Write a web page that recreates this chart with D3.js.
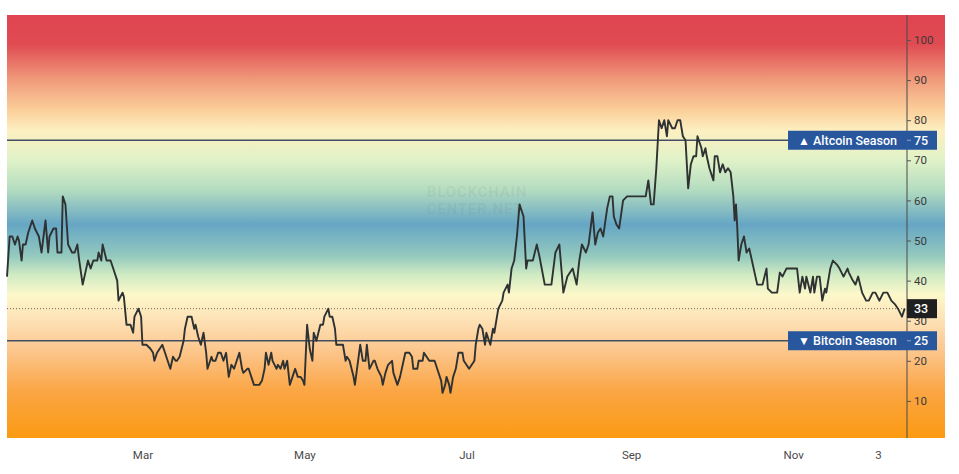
<!DOCTYPE html>
<html>
<head>
<meta charset="utf-8">
<script src="https://cdn.jsdelivr.net/npm/d3@7"></script>
<style>
  body { margin: 0; background: #fff; }
  svg { display: block; font-family: Roboto, "Open Sans", sans-serif; }
</style>
</head>
<body>
<script>
const w = 959;
const h = 474;

// days since the first point (9 Jan 2022)
const dayOffsets = [
  0, 1, 2, 3, 4, 4.5, 5.5, 6, 7, 8,
  9.5, 10.5, 12, 13, 14.5, 15.5, 16, 17.5, 18.5, 19,
  20.5, 21, 22, 23, 24.5, 25.5, 26.5, 27, 28.5, 29.5,
  30.5, 31.5, 32.5, 34, 34.5, 35.5, 36, 37.5, 39, 40,
  41.5, 42, 43.5, 44, 45, 46.5, 47.5, 48, 49.5, 50.5,
  51, 52.5, 54, 55, 55.5, 56.5, 57.5, 58.5, 59.5, 60,
  61.5, 62.5, 63.5, 64, 65, 66.5, 67, 68, 69.5, 70.5,
  71, 72, 73, 74, 75, 75.5, 77, 77.5, 78.5, 79.5,
  80.5, 81.5, 82.5, 83.5, 84.5, 85.5, 86.5, 87.5, 88.5, 89,
  90.5, 91, 92, 93, 94, 95, 96, 97, 97.5, 98.5,
  99.5, 100, 101.5, 102, 103, 104, 104.5, 105.5, 106.5, 107.5,
  108.5, 109.5, 110.5, 111.5, 112, 113, 114, 115, 115.5, 116.5,
  118, 119, 119.5, 121, 121.5, 122.5, 123.5, 124, 125.5, 126.5,
  127.5, 128, 129, 130.5, 131, 132, 133, 134, 135, 135.5,
  136.5, 138, 138.5, 139.5, 141, 141.5, 142.5, 143.5, 145, 145.5,
  147, 148, 149, 150, 151.5, 152.5, 153, 154.5, 155, 156.5,
  157, 158, 159, 160, 161, 162, 163.5, 164, 165, 165.5,
  166.5, 167, 168, 169, 170, 171.5, 172, 173, 174, 175,
  176, 176.5, 177.5, 178, 179, 180, 180.5, 182, 183, 183.5,
  185, 186.5, 187, 188.5, 189, 190, 191, 192, 193, 194.5,
  195.5, 196, 198, 199.5, 200.5, 202.5, 203.5, 205, 206.5, 208,
  209.5, 211, 213, 214.5, 215.5, 216.5, 218, 219, 220.5, 221.5,
  222.5, 223.5, 224.5, 226, 227, 228, 228.5, 229.5, 230.5, 232,
  233.5, 240.5, 241.5, 242.5, 243.5, 244.5, 245.5, 246.5, 247.5, 248.5,
  249, 250.5, 251.5, 252.5, 253.5, 254.5, 255.5, 256.5, 257.5, 258.5,
  259.5, 260, 261.5, 262, 263, 263.5, 264.5, 266, 266.5, 267.5,
  268.5, 269.5, 270.5, 271.5, 272.5, 273.5, 274, 274.5, 275, 275.5,
  276.5, 277.5, 278.5, 279.5, 280.5, 281.5, 282.5, 283.5, 284.5, 286,
  286.5, 288, 290, 291, 292, 293.5, 296, 297.5, 298.5, 299.5,
  300.5, 301, 302.5, 303.5, 304, 305, 306, 307, 308, 308.5,
  310, 311, 312.5, 313.5, 315, 316.5, 317, 318.5, 319.5, 320.5,
  322, 323.5, 324.5, 326, 327, 328.5, 330, 331.5, 333, 334.5,
  335.5, 337, 338
];

const indexValues = [
  41, 51, 51, 49, 51, 50, 45, 49, 49, 52,
  55, 53, 51, 47, 55, 47, 51, 53, 53, 47,
  47, 61, 59, 49, 47, 47, 49, 46, 39, 42,
  45, 43, 45, 45, 47, 45, 49, 45, 45, 43,
  40, 35, 37, 36, 29, 29, 27, 31, 33, 31,
  24, 24, 23, 22, 20, 22, 23, 24, 22, 21,
  18, 21, 20, 20, 21, 25, 28, 31, 31, 28,
  29, 26, 24, 27, 22, 18, 21, 20, 20, 22,
  22, 20, 22, 16, 19, 18, 20, 22, 18, 17,
  18, 18, 16, 14, 14, 14, 15, 18, 22, 19,
  22, 20, 18, 19, 18, 20, 18, 20, 14, 16,
  18, 16, 16, 15, 14, 29, 23, 20, 27, 25,
  29, 29, 31, 33, 31, 31, 28, 24, 24, 24,
  20, 21, 20, 16, 14, 19, 24, 20, 20, 24,
  18, 20, 20, 18, 16, 14, 17, 19, 20, 17,
  14, 16, 19, 22, 22, 21, 18, 18, 20, 20,
  22, 21, 20, 20, 20, 18, 15, 12, 14, 16,
  14, 12, 16, 18, 22, 22, 20, 19, 18, 19,
  20, 24, 28, 29, 28, 24, 27, 24, 28, 27,
  33, 35, 37, 39, 37, 43, 45, 51, 59, 56,
  43, 45, 45, 49, 46, 39, 39, 39, 47, 49,
  37, 41, 43, 39, 45, 49, 47, 49, 57, 49,
  52, 53, 51, 58, 61, 61, 56, 54, 53, 60,
  61, 61, 65, 59, 59, 68, 80, 78, 80, 76,
  80, 78, 78, 80, 80, 76, 75, 63, 69, 71,
  71, 76, 73, 71, 73, 71, 68, 65, 71, 71,
  67, 69, 67, 68, 67, 61, 55, 59, 53, 45,
  49, 51, 47, 48, 45, 42, 39, 39, 39, 43,
  38, 37, 37, 42, 41, 43, 43, 43, 37, 41,
  38, 41, 37, 41, 37, 41, 41, 35, 38, 37,
  43, 45, 44, 43, 41, 43, 42, 40, 39, 41,
  37, 35, 35, 37, 37, 35, 37, 37, 35, 34,
  33, 31, 33
];

const lastValue = 33;
const altcoinLevel = 75;
const bitcoinLevel = 25;

const yTicks = [10, 20, 30, 40, 50, 60, 70, 80, 90, 100];
const xTickDates = ["2022-03-01", "2022-05-01", "2022-07-01", "2022-09-01", "2022-11-01", "2022-12-03"];
const xTickLabels = ["Mar", "May", "Jul", "Sep", "Nov", "3"];

// background colour bands, by index value
const bandValues = [106, 99, 90, 82.5, 77.5, 70, 62.6, 54, 46, 41.4, 36.4, 30, 22.7, 12.7, 0.7];
const bandColors = ["#df4450", "#e04b52", "#f09b7b", "#fbcf99", "#fdefc1", "#e0f2c8", "#b3dcc0",
  "#66a6c4", "#95cabe", "#d0ebc3", "#fdf8ca", "#fde1b5", "#fcc78e", "#fba646", "#fb9a12"];

const paneLeft = 7, paneRight = 945, paneTop = 15, paneBottom = 438, axisX = 907;

const start = Date.UTC(2022, 0, 9);
const DAY = 864e5;
const data = dayOffsets.map((d, i) => ({ date: new Date(start + d * DAY), value: indexValues[i] }));

const x = d3.scaleUtc()
  .domain([new Date(start), new Date(start + 338.9 * DAY)])
  .range([paneLeft, axisX]);

const y = d3.scaleLinear()
  .domain([0, 100])
  .range([441, 40]);

const svg = d3.select("body").append("svg")
  .attr("width", w)
  .attr("height", h);

// gradient background
const grad = svg.append("defs").append("linearGradient")
  .attr("id", "bands")
  .attr("gradientUnits", "userSpaceOnUse")
  .attr("x1", 0).attr("x2", 0)
  .attr("y1", paneTop).attr("y2", paneBottom);

grad.selectAll("stop")
  .data(bandValues)
  .enter()
  .append("stop")
  .attr("offset", d => Math.max(0, Math.min(1, (y(d) - paneTop) / (paneBottom - paneTop))))
  .attr("stop-color", (d, i) => bandColors[i]);

svg.append("rect")
  .attr("x", paneLeft)
  .attr("y", paneTop)
  .attr("width", paneRight - paneLeft)
  .attr("height", paneBottom - paneTop)
  .attr("fill", "url(#bands)");

// watermark
const wm = svg.append("g")
  .attr("fill", "rgba(110,110,110,0.1)")
  .attr("font-weight", "bold")
  .attr("font-size", 15)
  .attr("text-anchor", "middle")
  .attr("letter-spacing", 0.8);
wm.append("text").attr("x", 477).attr("y", 197).text("BLOCKCHAIN");
wm.append("text").attr("x", 475).attr("y", 214).text("CENTER.NET");

// current value dotted line
svg.append("line")
  .attr("x1", paneLeft).attr("x2", axisX)
  .attr("y1", y(lastValue)).attr("y2", y(lastValue))
  .attr("stroke", "#555")
  .attr("stroke-width", 0.9)
  .attr("stroke-dasharray", "1,2");

// season levels
[altcoinLevel, bitcoinLevel].forEach(v => {
  svg.append("line")
    .attr("x1", paneLeft).attr("x2", 788)
    .attr("y1", y(v)).attr("y2", y(v))
    .attr("stroke", "#424e63")
    .attr("stroke-width", 1.7);
});

// the index line
const line = d3.line()
  .x(d => x(d.date))
  .y(d => y(d.value));

svg.append("path")
  .datum(data)
  .attr("d", line)
  .attr("fill", "none")
  .attr("stroke", "#2f3232")
  .attr("stroke-width", 1.9)
  .attr("stroke-linejoin", "round");

// right price axis
const yAxis = svg.append("g")
  .attr("transform", "translate(" + axisX + ",0)")
  .call(d3.axisRight(y).tickValues(yTicks).tickSize(4).tickPadding(3));
yAxis.select(".domain").remove();
yAxis.selectAll(".tick line").attr("stroke", "#555");
yAxis.selectAll(".tick text")
  .attr("fill", "#3a3a3a")
  .attr("font-size", 11.5)
  .attr("font-family", "Roboto, sans-serif");

svg.append("line")
  .attr("x1", axisX).attr("x2", axisX)
  .attr("y1", paneTop).attr("y2", paneBottom)
  .attr("stroke", "#4a4a4a")
  .attr("stroke-width", 1);

// bottom time axis
const xAxis = svg.append("g")
  .attr("transform", "translate(0," + paneBottom + ")")
  .call(d3.axisBottom(x)
    .tickValues(xTickDates.map(s => new Date(s + "T00:00:00Z")))
    .tickFormat((d, i) => xTickLabels[i])
    .tickSize(0)
    .tickPadding(13));
xAxis.select(".domain").remove();
xAxis.selectAll(".tick text")
  .attr("fill", "#4a4a4a")
  .attr("font-size", 11.5)
  .attr("font-family", "Roboto, sans-serif");

// level labels
function seasonLabel(v, arrow, name) {
  const g = svg.append("g").attr("transform", "translate(0," + y(v) + ")");
  g.append("rect")
    .attr("x", 788).attr("y", -9.5)
    .attr("width", 149).attr("height", 19)
    .attr("fill", "#28579e");
  g.append("line")
    .attr("x1", axisX).attr("x2", axisX + 4)
    .attr("stroke", "#8fa6c8");
  g.append("text")
    .attr("x", 798).attr("y", 4.5)
    .attr("fill", "#fff")
    .attr("font-size", 12)
    .text(arrow);
  g.append("text")
    .attr("x", 813).attr("y", 4.5)
    .attr("fill", "#fff")
    .attr("font-size", 12.5)
    .attr("font-weight", 500)
    .text(name);
  g.append("text")
    .attr("x", 914).attr("y", 4.5)
    .attr("fill", "#fff")
    .attr("font-size", 12.5)
    .attr("font-weight", 500)
    .text(v);
}
seasonLabel(altcoinLevel, "▲", "Altcoin Season");
seasonLabel(bitcoinLevel, "▼", "Bitcoin Season");

// current value tag
const tag = svg.append("g").attr("transform", "translate(0," + y(lastValue) + ")");
tag.append("rect")
  .attr("x", axisX).attr("y", -9.5)
  .attr("width", 30).attr("height", 19)
  .attr("fill", "#1f1f1f");
tag.append("text")
  .attr("x", 914).attr("y", 4.5)
  .attr("fill", "#fff")
  .attr("font-size", 12.5)
  .attr("font-weight", 500)
  .text(lastValue);
</script>
</body>
</html>
